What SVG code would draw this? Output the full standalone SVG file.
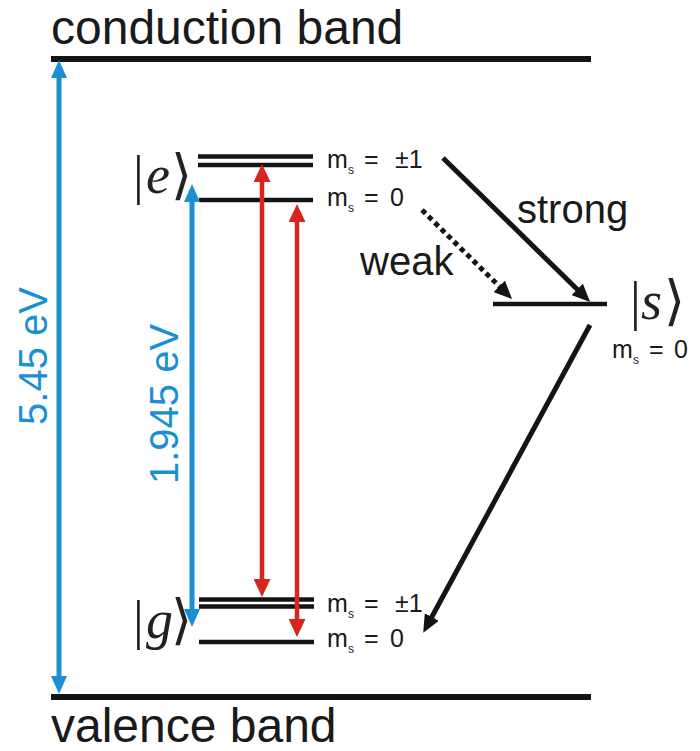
<svg xmlns="http://www.w3.org/2000/svg" width="700" height="751" viewBox="0 0 700 751">
<defs>
<style>
.band{stroke:#141414;stroke-width:6;fill:none}
.lvl{stroke:#141414;stroke-width:4.5;fill:none}
.lbl{font-family:"Liberation Sans",Arial,sans-serif;fill:#1a1a1a}
.big{font-size:48px}
.ms{font-size:25px}
.sub{font-size:12px}
.ket{font-family:"Liberation Serif","DejaVu Serif",serif;font-size:54px;fill:#222}
.blue{stroke:#1a8fd4;stroke-width:5;fill:none}
.red{stroke:#d8261f;stroke-width:4.5;fill:none}
.blk{stroke:#141414;stroke-width:5;fill:none}
.eV{font-family:"Liberation Sans",Arial,sans-serif;font-size:40px;fill:#1a8fd4}
</style>
<marker id="hb" markerUnits="userSpaceOnUse" markerWidth="18" markerHeight="16" refX="8" refY="8" orient="auto-start-reverse"><path d="M0,0 L18,8 L0,16 z" fill="#1a8fd4"/></marker>
<marker id="hr" markerUnits="userSpaceOnUse" markerWidth="18" markerHeight="17" refX="8" refY="8.5" orient="auto-start-reverse"><path d="M0,0 L18,8.5 L0,17 z" fill="#d8261f"/></marker>
<marker id="hk" markerUnits="userSpaceOnUse" markerWidth="18" markerHeight="16" refX="8" refY="8" orient="auto"><path d="M0,0 L18,8 L0,16 z" fill="#141414"/></marker>
</defs>
<rect width="700" height="751" fill="#fff"/>

<g id="conduction-band">
<line class="band" x1="51" y1="59" x2="591" y2="59"/>
<text class="lbl big" x="51" y="44">conduction band</text>
</g>
<g id="valence-band">
<line class="band" x1="51" y1="697" x2="591" y2="697"/>
<text class="lbl big" x="51" y="742">valence band</text>
</g>

<g id="excited-state">
<line class="lvl" x1="198" y1="156.5" x2="313" y2="156.5"/>
<line class="lvl" x1="198" y1="165" x2="313" y2="165"/>
<line class="lvl" x1="199" y1="200" x2="313" y2="200"/>
<text class="ket" x="133" y="193">|<tspan x="146" font-style="italic">e</tspan><tspan x="171">⟩</tspan></text>
<text class="lbl ms" x="327" y="168">m<tspan class="sub" x="348" dy="6">s</tspan><tspan x="364" dy="-6">=</tspan><tspan x="395">±1</tspan></text>
<text class="lbl ms" x="327" y="206">m<tspan class="sub" x="348" dy="6">s</tspan><tspan x="364" dy="-6">=</tspan><tspan x="390">0</tspan></text>
</g>

<g id="ground-state">
<line class="lvl" x1="199" y1="599.5" x2="314" y2="599.5"/>
<line class="lvl" x1="199" y1="606.5" x2="314" y2="606.5"/>
<line class="lvl" x1="199" y1="642" x2="314" y2="642"/>
<text class="ket" x="133" y="638">|<tspan x="146" font-style="italic">g</tspan><tspan x="171">⟩</tspan></text>
<text class="lbl ms" x="327" y="612">m<tspan class="sub" x="348" dy="6">s</tspan><tspan x="364" dy="-6">=</tspan><tspan x="395">±1</tspan></text>
<text class="lbl ms" x="327" y="647">m<tspan class="sub" x="348" dy="6">s</tspan><tspan x="364" dy="-6">=</tspan><tspan x="390">0</tspan></text>
</g>

<g id="singlet-state">
<line class="lvl" x1="493" y1="304" x2="607" y2="304"/>
<text class="ket" x="630" y="319" font-size="46">|<tspan x="641" font-style="italic">s</tspan><tspan x="664">⟩</tspan></text>
<text class="lbl ms" x="612" y="358">m<tspan class="sub" x="633" dy="6">s</tspan><tspan x="649" dy="-6">=</tspan><tspan x="674">0</tspan></text>
</g>

<g id="connectors">
<line class="blue" x1="59" y1="70" x2="59" y2="684" marker-start="url(#hb)" marker-end="url(#hb)"/>
<text class="eV" transform="translate(47,356) rotate(-90)" text-anchor="middle">5.45 eV</text>
<line class="blue" x1="192" y1="194" x2="192" y2="617" marker-start="url(#hb)" marker-end="url(#hb)"/>
<text class="eV" transform="translate(178,404) rotate(-90)" text-anchor="middle">1.945 eV</text>
<line class="red" x1="262" y1="174" x2="262" y2="587" marker-start="url(#hr)" marker-end="url(#hr)"/>
<line class="red" x1="297" y1="214" x2="297" y2="627" marker-start="url(#hr)" marker-end="url(#hr)"/>
<line class="blk" x1="443" y1="158" x2="583" y2="295" marker-end="url(#hk)"/>
<text class="lbl" x="517" y="223" font-size="40">strong</text>
<line class="blk" x1="422" y1="210" x2="505" y2="292" stroke-dasharray="5,4" marker-end="url(#hk)"/>
<text class="lbl" x="360" y="275" font-size="40">weak</text>
<line class="blk" x1="590" y1="325" x2="428" y2="624" marker-end="url(#hk)"/>
</g>
</svg>
